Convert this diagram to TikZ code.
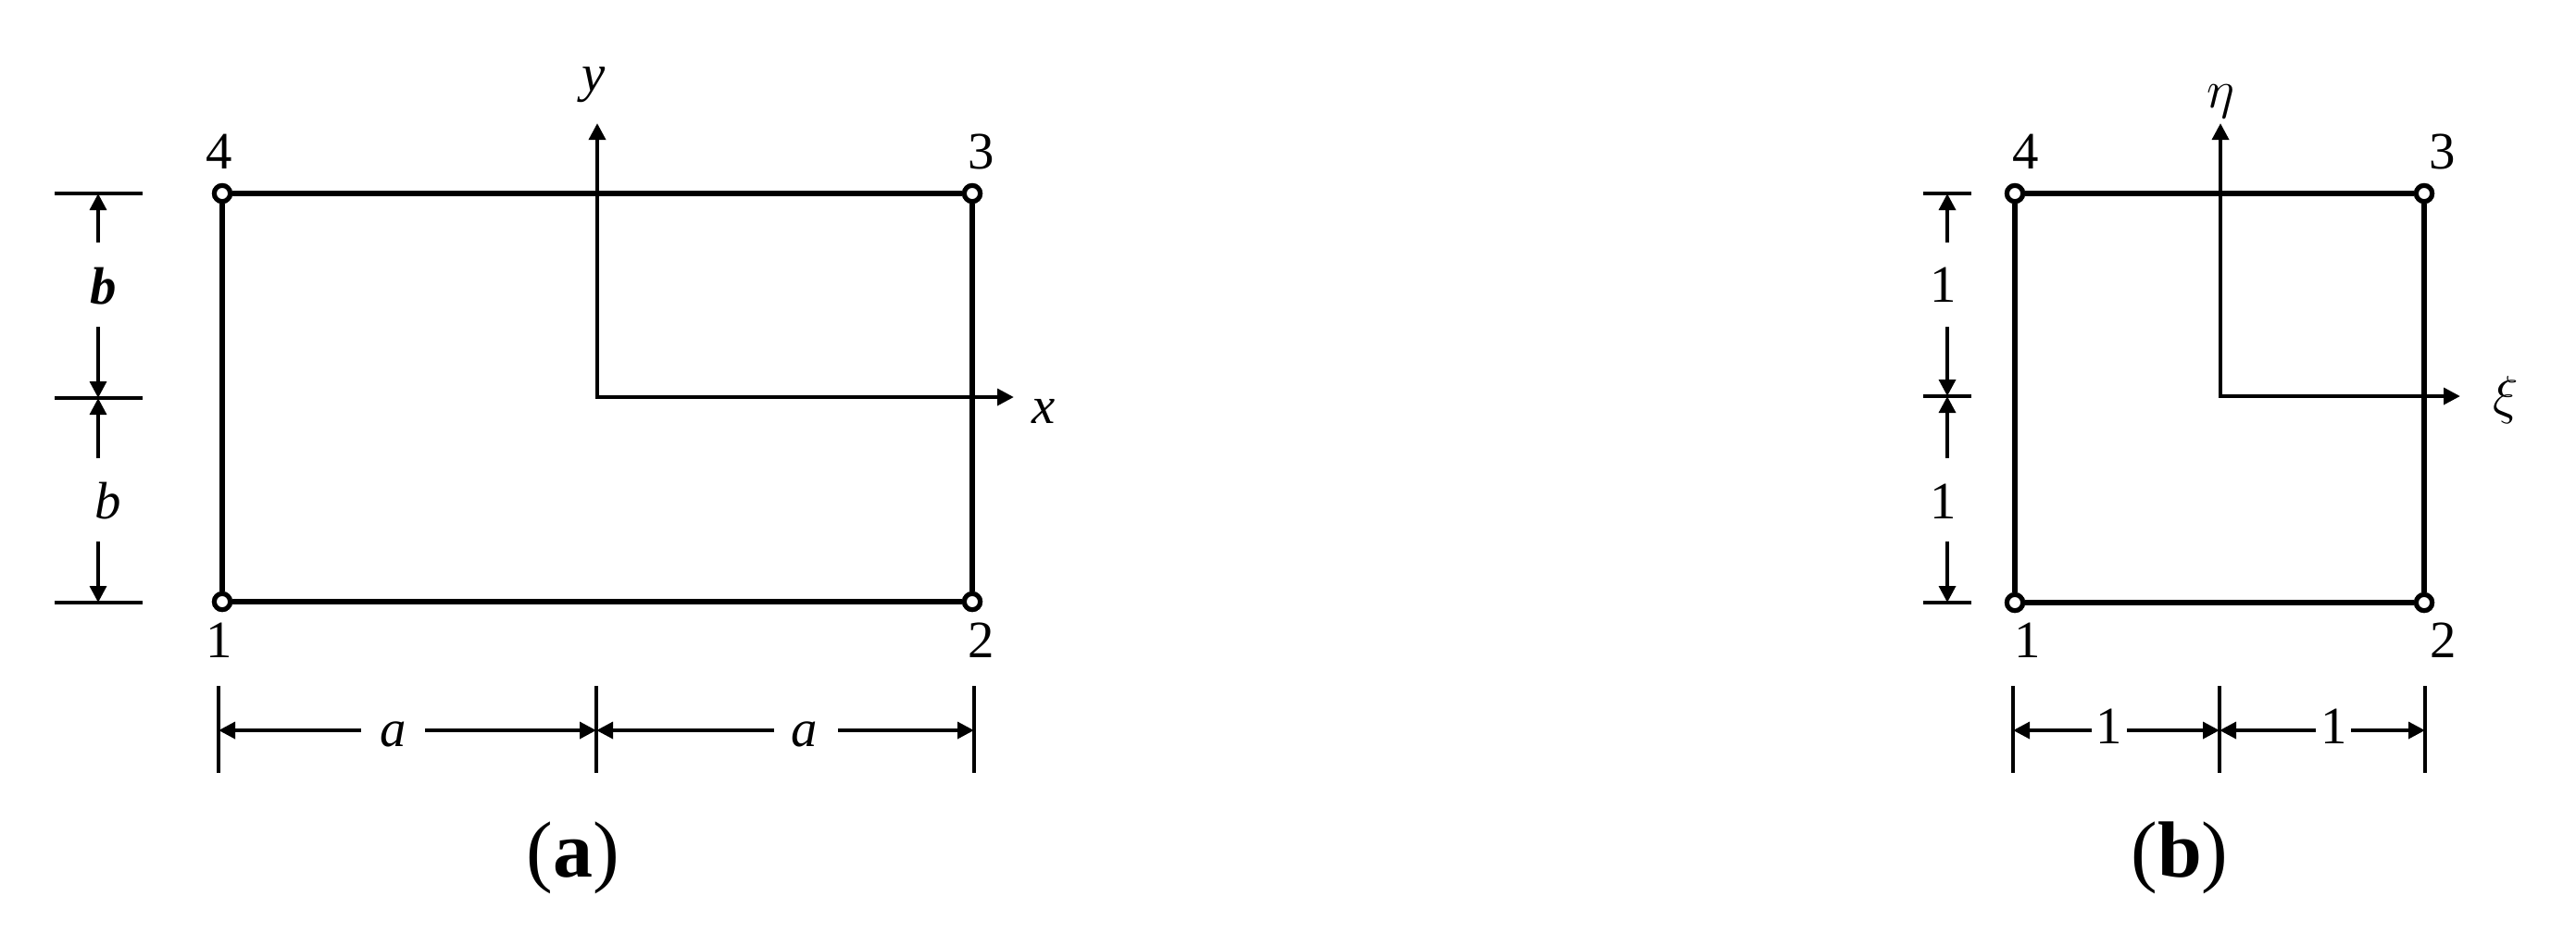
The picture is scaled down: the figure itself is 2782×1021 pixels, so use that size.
\documentclass[tikz,border=0pt]{standalone}
\usepackage{fontspec}
\setmainfont{Liberation Serif}
\usetikzlibrary{arrows.meta}
\begin{document}
\begin{tikzpicture}[x=0.25pt,y=-0.25pt,
  edge/.style={line width=1.3pt},
  thickedge/.style={line width=1.7pt},
  dimline/.style={line width=1.1pt},
  tipend/.style={-{Triangle[length=4.5pt,width=4.4pt]}},
  axes/.style={line width=1.2pt,line join=miter,{Triangle[length=4.5pt,width=4.4pt]}-{Triangle[length=4.5pt,width=4.4pt]}},
  corner/.style={circle,draw,fill=white,line width=1.25pt,inner sep=0pt,minimum size=4.3pt},
  lbl/.style={font=\fontsize{14.2}{16}\selectfont,inner sep=0pt},
  capt/.style={font=\fontsize{21.5}{24}\selectfont,inner sep=0pt}]
\useasboundingbox (0,0) rectangle (2782,1021);

% ---------------- (a) ----------------
\node[corner] (a1) at (240,650) {};
\node[corner] (a2) at (1050,650) {};
\node[corner] (a3) at (1050,209) {};
\node[corner] (a4) at (240,209) {};
\draw[edge] (a1) -- (a2);
\draw[thickedge] (a2) -- (a3);
\draw[edge] (a3) -- (a4);
\draw[edge] (a4) -- (a1);
\coordinate (ao) at (645,429);
\coordinate (ay) at (645,133);
\coordinate (ax) at (1095,429);
\draw[axes] (ay) -- (ao) -- (ax);
\node[corner] at (a1) {};
\node[corner] at (a2) {};
\node[corner] at (a3) {};
\node[corner] at (a4) {};

\node[lbl] (ly) at (641,92) {\textit{y}};
\node[lbl] (lx) at (1127,444) {\textit{x}};
\node[lbl] (n4a) at (237,164) {4};
\node[lbl] (n3a) at (1060,164) {3};
\node[lbl] (n1a) at (237,692) {1};
\node[lbl] (n2a) at (1060,692) {2};

% vertical dimension (a)
\coordinate (vt1) at (59,209);  \coordinate (vt1e) at (154,209);
\coordinate (vt2) at (59,430);  \coordinate (vt2e) at (154,430);
\coordinate (vt3) at (59,651);  \coordinate (vt3e) at (154,651);
\draw[dimline] (vt1) -- (vt1e);
\draw[dimline] (vt2) -- (vt2e);
\draw[dimline] (vt3) -- (vt3e);
\coordinate (va1) at (106,262); \coordinate (va1t) at (106,209);
\coordinate (va2) at (106,353); \coordinate (va2t) at (106,430);
\coordinate (va3) at (106,495); \coordinate (va3t) at (106,430);
\coordinate (va4) at (106,585); \coordinate (va4t) at (106,651);
\draw[dimline,tipend] (va1) -- (va1t);
\draw[dimline,tipend] (va2) -- (va2t);
\draw[dimline,tipend] (va3) -- (va3t);
\draw[dimline,tipend] (va4) -- (va4t);
\node[lbl] (lb1) at (112,309) {\textbf{\textit{b}}};
\node[lbl] (lb2) at (117,541) {\textit{b}};

% horizontal dimension (a)
\coordinate (ht1) at (236,741); \coordinate (ht1e) at (236,835);
\coordinate (ht2) at (644,741); \coordinate (ht2e) at (644,835);
\coordinate (ht3) at (1052,741); \coordinate (ht3e) at (1052,835);
\draw[dimline] (ht1) -- (ht1e);
\draw[dimline] (ht2) -- (ht2e);
\draw[dimline] (ht3) -- (ht3e);
\coordinate (ha1) at (390,789); \coordinate (ha1t) at (236,789);
\coordinate (ha2) at (459,789); \coordinate (ha2t) at (644,789);
\coordinate (ha3) at (836,789); \coordinate (ha3t) at (644,789);
\coordinate (ha4) at (905,789); \coordinate (ha4t) at (1052,789);
\draw[dimline,tipend] (ha1) -- (ha1t);
\draw[dimline,tipend] (ha2) -- (ha2t);
\draw[dimline,tipend] (ha3) -- (ha3t);
\draw[dimline,tipend] (ha4) -- (ha4t);
\node[lbl] (la1) at (425,793) {\textit{a}};
\node[lbl] (la2) at (869,793) {\textit{a}};

\node[capt] (capa) at (619,927) {(\textbf{a})};

% ---------------- (b) ----------------
\node[corner] (b1) at (2176,651) {};
\node[corner] (b2) at (2618,651) {};
\node[corner] (b3) at (2618,209) {};
\node[corner] (b4) at (2176,209) {};
\draw[edge] (b1) -- (b2);
\draw[edge] (b2) -- (b3);
\draw[edge] (b3) -- (b4);
\draw[edge] (b4) -- (b1);
\coordinate (bo) at (2398,428);
\coordinate (by) at (2398,133);
\coordinate (bx) at (2657,428);
\draw[axes] (by) -- (bo) -- (bx);
\node[corner] at (b1) {};
\node[corner] at (b2) {};
\node[corner] at (b3) {};
\node[corner] at (b4) {};

\node[lbl] (leta) at (2398,110) {$\eta$};
\node[lbl] (lxi) at (2706,432) {$\xi$};
\node[lbl] (n4b) at (2188,164) {4};
\node[lbl] (n3b) at (2638,164) {3};
\node[lbl] (n1b) at (2190,692) {1};
\node[lbl] (n2b) at (2639,692) {2};

% vertical dimension (b)
\coordinate (wt1) at (2077,209);  \coordinate (wt1e) at (2129,209);
\coordinate (wt2) at (2077,428);  \coordinate (wt2e) at (2129,428);
\coordinate (wt3) at (2077,651);  \coordinate (wt3e) at (2129,651);
\draw[dimline] (wt1) -- (wt1e);
\draw[dimline] (wt2) -- (wt2e);
\draw[dimline] (wt3) -- (wt3e);
\coordinate (wa1) at (2103,262); \coordinate (wa1t) at (2103,209);
\coordinate (wa2) at (2103,353); \coordinate (wa2t) at (2103,428);
\coordinate (wa3) at (2103,495); \coordinate (wa3t) at (2103,428);
\coordinate (wa4) at (2103,585); \coordinate (wa4t) at (2103,651);
\draw[dimline,tipend] (wa1) -- (wa1t);
\draw[dimline,tipend] (wa2) -- (wa2t);
\draw[dimline,tipend] (wa3) -- (wa3t);
\draw[dimline,tipend] (wa4) -- (wa4t);
\node[lbl] (lw1) at (2099,308) {1};
\node[lbl] (lw2) at (2099,542) {1};

% horizontal dimension (b)
\coordinate (kt1) at (2174,741); \coordinate (kt1e) at (2174,835);
\coordinate (kt2) at (2397,741); \coordinate (kt2e) at (2397,835);
\coordinate (kt3) at (2619,741); \coordinate (kt3e) at (2619,835);
\draw[dimline] (kt1) -- (kt1e);
\draw[dimline] (kt2) -- (kt2e);
\draw[dimline] (kt3) -- (kt3e);
\coordinate (ka1) at (2259,789); \coordinate (ka1t) at (2174,789);
\coordinate (ka2) at (2297,789); \coordinate (ka2t) at (2397,789);
\coordinate (ka3) at (2501,789); \coordinate (ka3t) at (2397,789);
\coordinate (ka4) at (2539,789); \coordinate (ka4t) at (2619,789);
\draw[dimline,tipend] (ka1) -- (ka1t);
\draw[dimline,tipend] (ka2) -- (ka2t);
\draw[dimline,tipend] (ka3) -- (ka3t);
\draw[dimline,tipend] (ka4) -- (ka4t);
\node[lbl] (lk1) at (2278,785) {1};
\node[lbl] (lk2) at (2521,785) {1};

\node[capt] (capb) at (2354,927) {(\textbf{b})};
\end{tikzpicture}
\end{document}
